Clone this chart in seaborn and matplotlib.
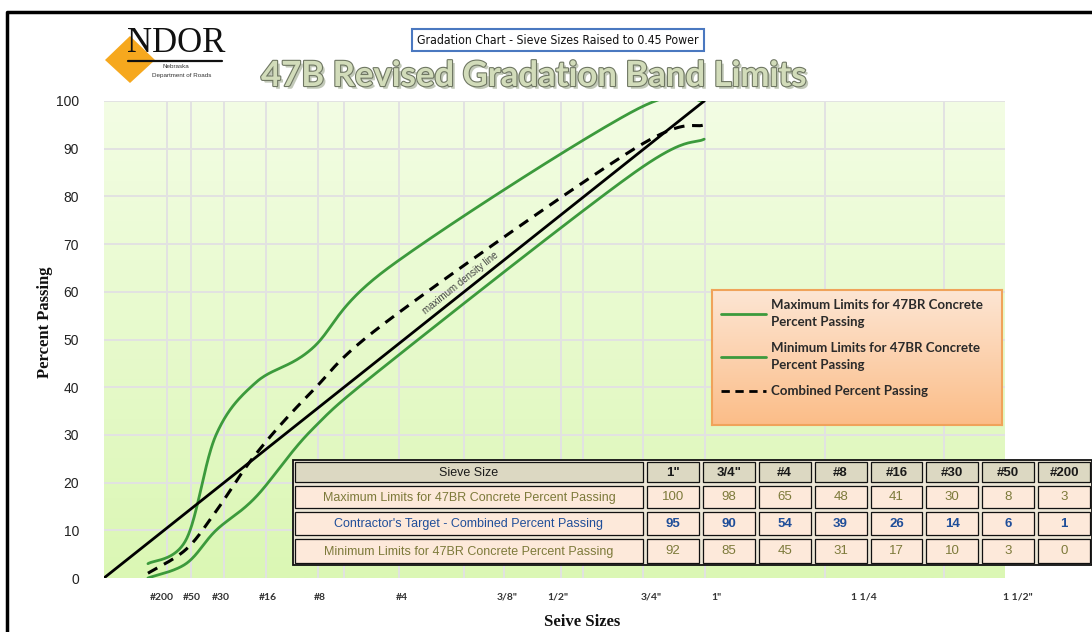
import numpy as np
import pandas as pd
import matplotlib
matplotlib.use("Agg")
import matplotlib.pyplot as plt
import matplotlib.patheffects as pe
from matplotlib.patches import Rectangle, Polygon
from matplotlib.lines import Line2D
import seaborn as sns

# --- Data ---
sieve_labels = ['1"', '3/4"', '#4', '#8', '#16', '#30', '#50', '#200']
sieve_mm = [25.0, 19.0, 4.75, 2.36, 1.18, 0.6, 0.3, 0.075]
max_limits = [100, 98, 65, 48, 41, 30, 8, 3]
target = [95, 90, 54, 39, 26, 14, 6, 1]
min_limits = [92, 85, 45, 31, 17, 10, 3, 0]

# axis text labels under the chart (placed like the original text boxes, in 0.45-power units)
axis_labels = ['#200', '#50', '#30', '#16', '#8', '#4', '3/8"', '1/2"', '3/4"', '1"', '1 1/4', '1 1/2"']
axis_label_pos = [0.41, 0.62, 0.83, 1.16, 1.53, 2.11, 2.86, 3.22, 3.88, 4.34, 5.39, 6.48]
grid_x = [0.45, 0.62, 0.85, 1.15, 1.52, 1.70, 2.09, 2.55, 2.84, 3.24, 3.40, 3.82, 4.26, 5.11, 5.96]

POWER = 0.45
XMAX = 6.39

df = pd.DataFrame({'sieve': sieve_labels, 'mm': sieve_mm, 'max': max_limits,
                   'target': target, 'min': min_limits})
df['x'] = df['mm'] ** POWER
df = df.sort_values('x')


def smooth(xs, ys, n=40):
    # Excel-style smoothed line (Catmull-Rom / Bezier)
    P = np.column_stack([xs, ys]).astype(float)
    P = np.vstack([P[0], P, P[-1]])
    out = []
    t = np.linspace(0, 1, n)[:, None]
    for i in range(1, len(P) - 2):
        p0, p1, p2, p3 = P[i - 1], P[i], P[i + 1], P[i + 2]
        c1 = p1 + (p2 - p0) / 6
        c2 = p2 - (p3 - p1) / 6
        seg = (1 - t) ** 3 * p1 + 3 * (1 - t) ** 2 * t * c1 + 3 * (1 - t) * t ** 2 * c2 + t ** 3 * p2
        out.append(seg)
    s = np.vstack(out)
    return s[:, 0], s[:, 1]


sns.set_theme(style="white")
plt.rcParams['font.family'] = ['Liberation Sans', 'DejaVu Sans']

W, H = 1092, 632
fig = plt.figure(figsize=(W / 100, H / 100), dpi=100)
fig.patch.set_facecolor('white')

L, R, T, B = 104, 1005, 101, 578
ax = fig.add_axes([L / W, 1 - B / H, (R - L) / W, (B - T) / H])

# gradient plot background (light at the top, greener at the bottom)
grad = np.linspace(0, 1, 256)[:, None]
cmap = matplotlib.colors.LinearSegmentedColormap.from_list('bg', ['#f3fde4', '#dbf7b4'])
ax.imshow(grad, extent=(0, XMAX, 0, 100), origin='upper', aspect='auto', cmap=cmap, zorder=0)
ax.set_xlim(0, XMAX)
ax.set_ylim(0, 100)

for gx in grid_x:
    ax.axvline(gx, color='#e2e2e2', lw=1.4, zorder=1)
for gy in range(10, 101, 10):
    ax.axhline(gy, color='#e2e2e2', lw=1.4, zorder=1)

green = '#3c9a3c'
mx, my = smooth(df['x'], df['max'])
nx, ny = smooth(df['x'], df['min'])
tx, ty = smooth(df['x'], df['target'])
sns.lineplot(x=mx, y=my, sort=False, color=green, lw=2, ax=ax, zorder=3)
sns.lineplot(x=nx, y=ny, sort=False, color=green, lw=2, ax=ax, zorder=3)
sns.lineplot(x=tx, y=ty, sort=False, color='black', lw=2.2, ax=ax, zorder=4,
             linestyle=(0, (3.5, 2.5)))
x_top = max(sieve_mm) ** POWER
sns.lineplot(x=[0, x_top], y=[0, 100], sort=False, color='black', lw=2, ax=ax, zorder=4)

# label along the maximum density line
p0 = ax.transData.transform((0, 0))
p1 = ax.transData.transform((x_top, 100))
ang = np.degrees(np.arctan2(p1[1] - p0[1], p1[0] - p0[0]))
lx = 2.55
ax.text(lx, 100 * lx / x_top + 1.2, 'maximum density line', rotation=ang, rotation_mode='anchor',
        ha='center', va='bottom', fontsize=7, color='#444444', zorder=5)

ax.set_xticks([])
ax.set_yticks(range(0, 101, 10))
ax.tick_params(axis='y', length=0, pad=18, labelsize=10, labelcolor='#222222')
for s in ax.spines.values():
    s.set_visible(False)
ax.set_xlabel('')
ax.set_ylabel('')

for lab, pos in zip(axis_labels, axis_label_pos):
    ax.text(pos, -4, lab, ha='center', va='center', fontsize=7.5, fontweight='bold',
            color='#333333', family=['Lato', 'DejaVu Sans'], clip_on=False)

# --- overlay in pixel coordinates for title, logo, table, frame ---
ov = fig.add_axes([0, 0, 1, 1], zorder=10)
ov.set_xlim(0, W)
ov.set_ylim(H, 0)
ov.axis('off')
ov.patch.set_alpha(0)

# frame
ov.plot([7, 7, W + 5], [H + 5, 12, 12], color='black', lw=2.5, solid_capstyle='butt')

# axis titles
ov.text(45, 322, 'Percent Passing', rotation=90, ha='center', va='center', fontsize=12,
        fontweight='bold', family=['Liberation Serif', 'DejaVu Serif'], color='#111111')
ov.text(582, 622, 'Seive Sizes', ha='center', va='center', fontsize=12,
        fontweight='bold', family=['Liberation Serif', 'DejaVu Serif'], color='#111111')

# logo
ov.add_patch(Polygon([[105, 60], [130, 36], [155, 60], [130, 83]], closed=True,
                     facecolor='#f6a81e', edgecolor='none'))
ov.text(176, 44, 'NDOR', ha='center', va='center', fontsize=25,
        family=['Liberation Serif', 'DejaVu Serif'], color='#111111')
ov.plot([128, 222], [61, 61], color='#111111', lw=1.6)
ov.text(176, 67, 'Nebraska', ha='center', va='center', fontsize=4.5, color='#333333')
ov.text(182, 76, 'Department of Roads', ha='center', va='center', fontsize=4.5, color='#333333')

# subtitle box and title
ov.text(558, 40, 'Gradation Chart - Sieve Sizes Raised to 0.45 Power', ha='center', va='center',
        fontsize=8.8, family=['Liberation Sans Narrow', 'DejaVu Sans'], fontstretch='condensed',
        color='#111111',
        bbox=dict(boxstyle='square,pad=0.4', facecolor='white', edgecolor='#4a78c0', lw=1.5))
ov.text(534, 76, '47B Revised Gradation Band Limits', ha='center', va='center', fontsize=25,
        fontweight='bold', family=['Lato', 'DejaVu Sans'], color='#d2dcba',
        path_effects=[pe.SimplePatchShadow(offset=(2, -2), shadow_rgbFace='#9aa58a', alpha=0.6),
                      pe.withStroke(linewidth=1.6, foreground='#6f7763')])

# legend box with gradient
lg = fig.add_axes([712 / W, 1 - 425 / H, 290 / W, 135 / H], zorder=9)
lcm = matplotlib.colors.LinearSegmentedColormap.from_list('lg', ['#fde6d4', '#fbbd88'])
lg.imshow(grad, extent=(0, 1, 0, 1), aspect='auto', cmap=lcm, origin='upper')
lg.set_xlim(0, 1)
lg.set_ylim(0, 1)
lg.set_xticks([])
lg.set_yticks([])
for s in lg.spines.values():
    s.set_color('#f0a35a')
    s.set_linewidth(1.5)
handles = [Line2D([], [], color=green, lw=2),
           Line2D([], [], color=green, lw=2),
           Line2D([], [], color='black', lw=2, linestyle=(0, (3, 2)))]
names = ['Maximum Limits for 47BR Concrete\nPercent Passing',
         'Minimum Limits for 47BR Concrete\nPercent Passing',
         'Combined Percent Passing']
leg = lg.legend(handles, names, loc='upper left', bbox_to_anchor=(0.0, 1.0), frameon=False,
                prop={'family': ['Lato', 'DejaVu Sans'], 'weight': 'bold', 'size': 9.5},
                handlelength=3.4, handletextpad=0.4, labelspacing=1.1, borderaxespad=0.3)
for t in leg.get_texts():
    t.set_color('#2a2a2a')
    t.set_linespacing(1.45)

# data table
col0_l, col0_r = 293, 645
ncol = len(sieve_labels)
cw = (W - col0_r) / ncol
row_y = [460, 484, 510, 537, 565]
col_x = [col0_l, col0_r] + [col0_r + cw * (i + 1) for i in range(ncol)]
rows = [('Sieve Size', sieve_labels, '#dcd8c2', '#1a1a1a', 'bold'),
        ('Maximum Limits for 47BR Concrete Percent Passing', max_limits, '#fde9da', '#7d7a3a', 'normal'),
        ("Contractor's Target - Combined Percent Passing", target, '#fde9da', '#1f4e99', 'bold'),
        ('Minimum Limits for 47BR Concrete Percent Passing', min_limits, '#fde9da', '#7d7a3a', 'normal')]
ov.add_patch(Rectangle((col0_l, row_y[0]), W - col0_l, row_y[-1] - row_y[0],
                       facecolor='#ece6d6', edgecolor='#111111', lw=1.3))
for r, (name, vals, bg, fc, wv) in enumerate(rows):
    y0, y1 = row_y[r], row_y[r + 1]
    cells = [name] + [str(v) for v in vals]
    for c, txt in enumerate(cells):
        x0, x1 = col_x[c], col_x[c + 1]
        ov.add_patch(Rectangle((x0 + 2, y0 + 2), x1 - x0 - 4, y1 - y0 - 4,
                               facecolor=bg, edgecolor='#111111', lw=0.9))
        ov.text((x0 + x1) / 2, (y0 + y1) / 2 + 0.5, txt, ha='center', va='center',
                fontsize=9 if c == 0 else 9.5, color=fc,
                fontweight='normal' if c == 0 else wv)

fig.savefig('out.png', dpi=100, facecolor='white')
